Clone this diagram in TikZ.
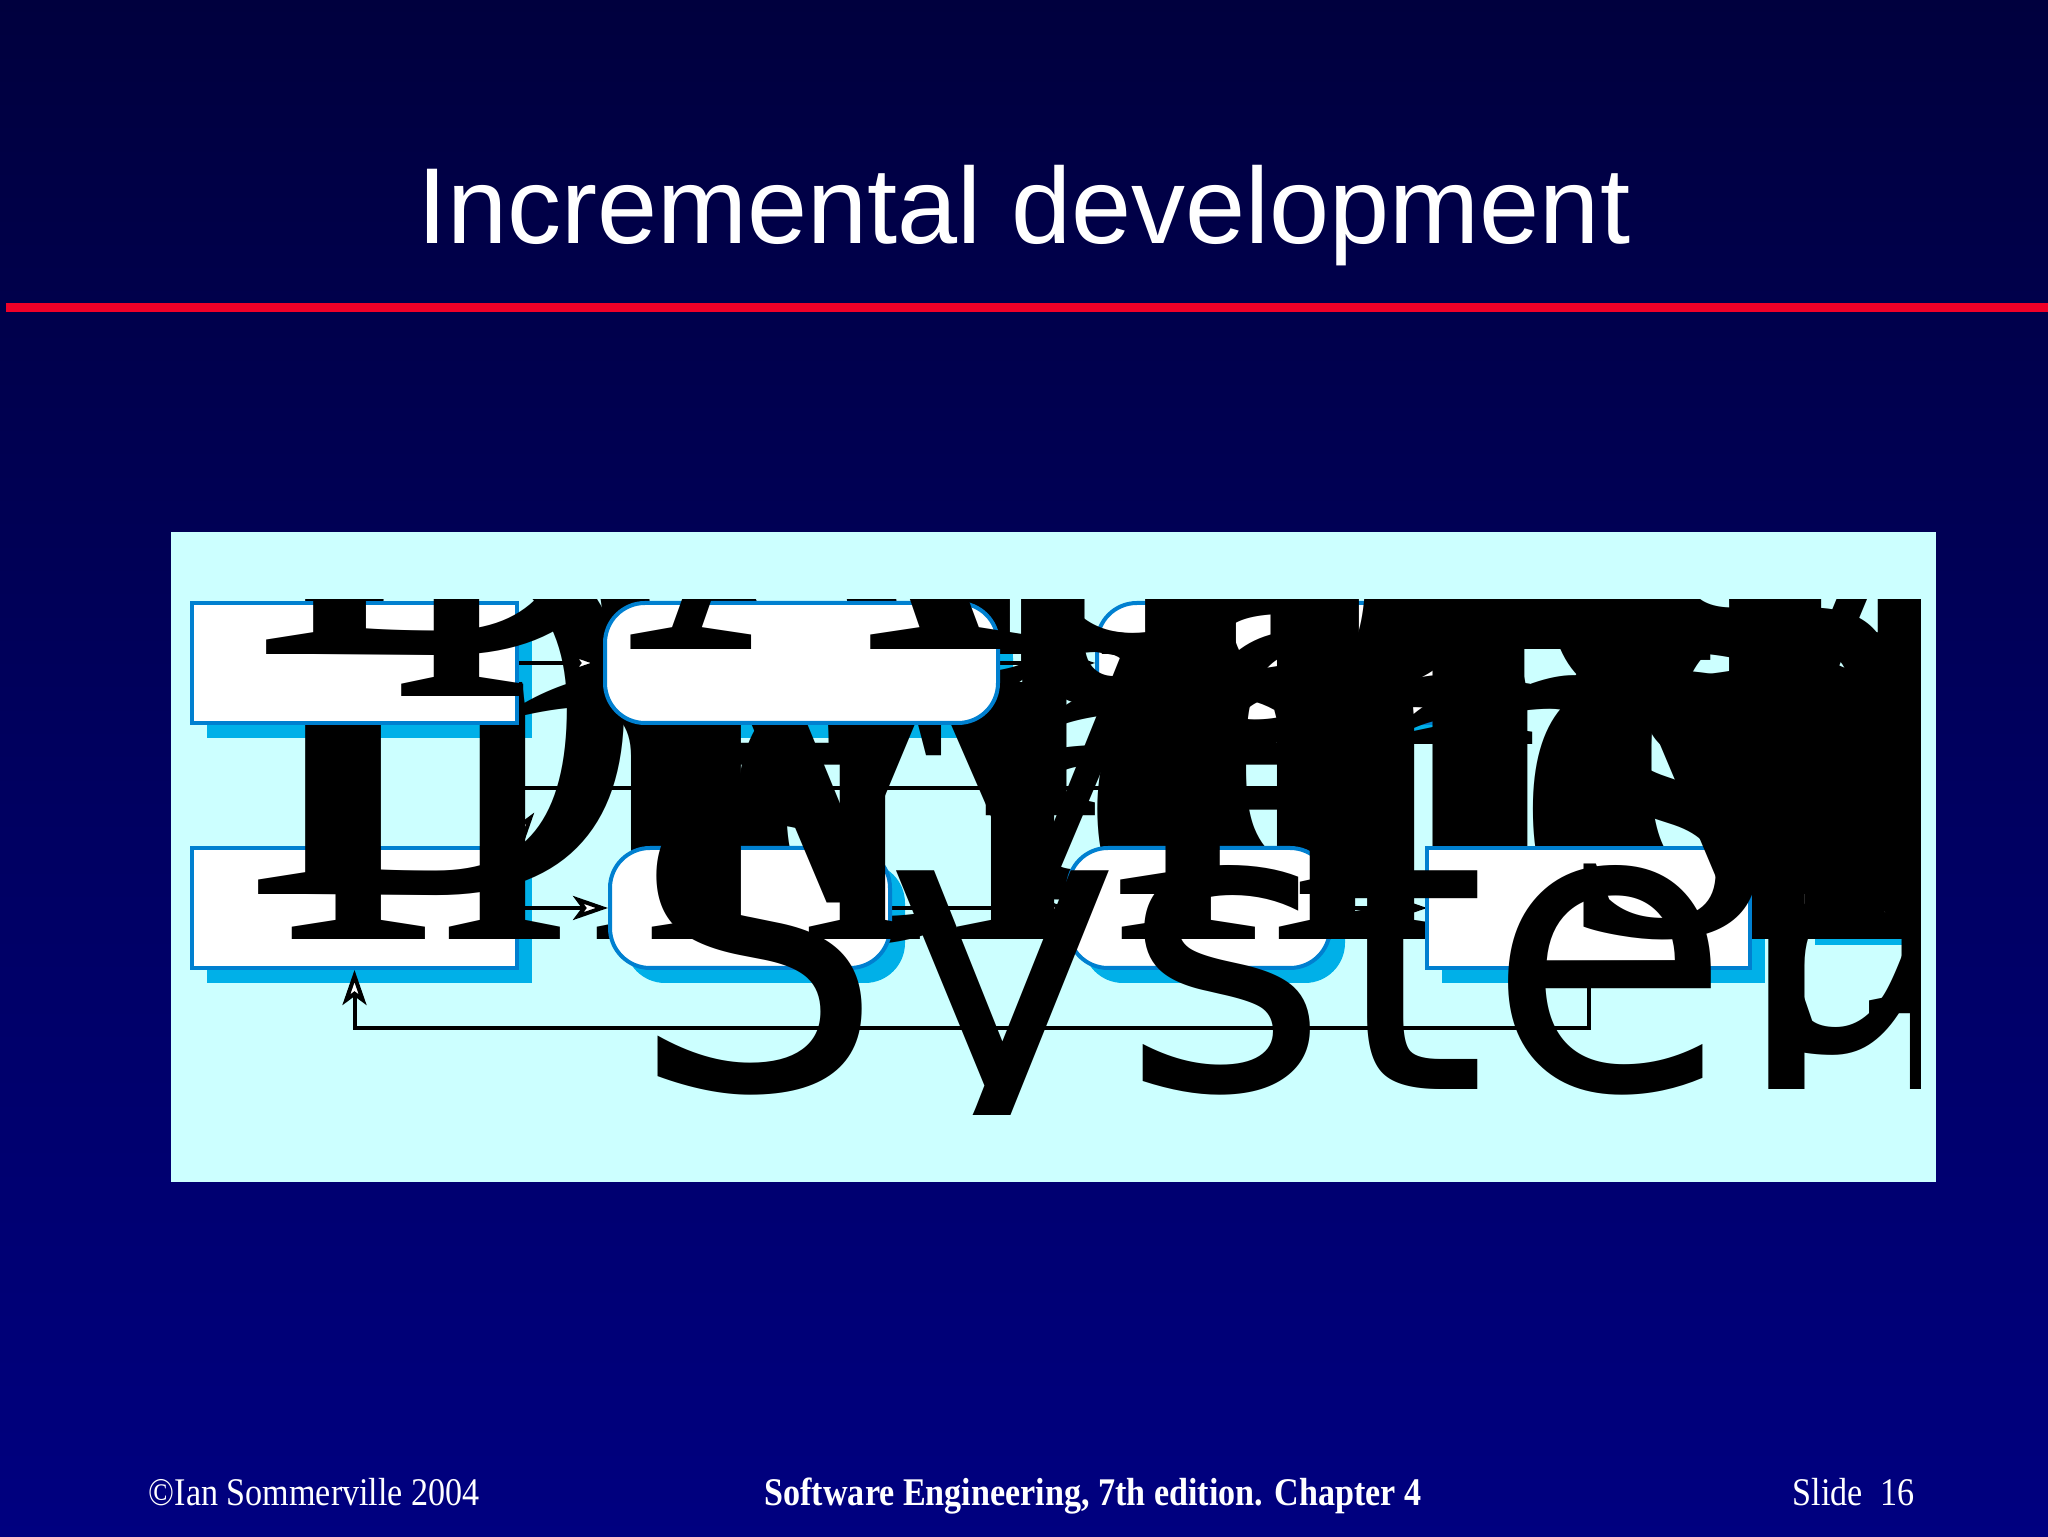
\documentclass[tikz,border=0pt]{standalone}
\usepackage{fontspec}
\setmainfont{Liberation Serif}
\setsansfont{Liberation Sans}
\newfontfamily\dejavu{DejaVu Sans}
\usetikzlibrary{arrows.meta}
\definecolor{bgtop}{RGB}{0,0,62}
\definecolor{bgbot}{RGB}{0,0,128}
\definecolor{redline}{RGB}{240,0,40}
\definecolor{panel}{RGB}{204,255,255}
\definecolor{boxedge}{RGB}{0,128,208}
\definecolor{shadowc}{RGB}{0,176,232}
\begin{document}
\begin{tikzpicture}[x=0.25pt,y=-0.25pt,
  procbox/.style={draw=boxedge, line width=1pt, fill=white, inner sep=0pt,
    minimum height=30pt},
  rbox/.style={procbox, rounded corners=10pt},
  shbox/.style={fill=shadowc, draw=none, inner sep=0pt, minimum height=30pt},
  rshbox/.style={shbox, rounded corners=10pt},
  conn/.style={draw=black, line width=1pt,
    -{Stealth[fill=white, length=8.75pt, width=6pt, inset=2.2pt]}},
  giant/.style={anchor=base west, inner sep=0pt, text=black,
    font=\fontsize{140}{140}\selectfont},
  giantsans/.style={anchor=base west, inner sep=0pt, text=black,
    font=\dejavu\fontsize{100}{100}\selectfont},
  foot/.style={text=white, inner sep=0pt, font=\fontsize{9.8}{12}\selectfont}
]
\useasboundingbox (0,0) rectangle (2048,1537);
\shade[top color=bgtop, bottom color=bgbot] (0,0) rectangle (2048,1537);
\fill[redline] (6,303) rectangle (2048,312);

\node[anchor=base, text=white, inner sep=0pt,
  font=\sffamily\fontsize{27}{30}\selectfont] (title) at (1024,244) {Incremental development};

\fill[panel] (171,532) rectangle (1936,1182);

% node positions
\coordinate (p1) at (354.5,663);
\coordinate (p2) at (801.5,663);
\coordinate (p3) at (1293.5,663);
\coordinate (p4) at (354.5,908);
\coordinate (p5) at (750,908);
\coordinate (p6) at (1199,908);
\coordinate (p7) at (1588.5,908);
\coordinate (p8) at (1852,890);
% box edge points used by the connectors drawn before the boxes
\coordinate (B2e) at (998,663);
\coordinate (B5e) at (890,908);
\coordinate (B6w) at (1068,908);
\coordinate (B6e) at (1330,908);
\coordinate (B7w) at (1427,908);
\coordinate (B7e) at (1750,908);
\coordinate (B8w) at (1799.5,908);
\coordinate (B4n) at (522,848);
\coordinate (bend) at (522,788);

\begin{scope}
\clip (183,600) rectangle (1920,1115);
% shadows
\node[shbox, minimum width=81.25pt] (sB1) at ([shift={(15,15)}]p1) {};
\node[rshbox, minimum width=98.25pt] (sB2) at ([shift={(15,15)}]p2) {};
\node[rshbox, minimum width=98.25pt] (sB3) at ([shift={(15,15)}]p3) {};
\node[shbox, minimum width=81.25pt] (sB4) at ([shift={(15,15)}]p4) {};
\node[rshbox, minimum width=70pt] (sB5) at ([shift={(15,15)}]p5) {};
\node[rshbox, minimum width=65.5pt] (sB6) at ([shift={(15,15)}]p6) {};
\node[shbox, minimum width=80.75pt] (sB7) at ([shift={(15,15)}]p7) {};
\node[shbox, minimum width=26.25pt, minimum height=20pt] (sB8) at ([shift={(15,15)}]p8) {};

% boxes drawn first in the printed order
\node[rbox, minimum width=98.25pt] (B3) at (p3) {};
\node[procbox, minimum width=26.25pt, minimum height=20pt] (B8) at (p8) {};

% connectors under the oversized labels
\draw[conn] (B2e) -- (B3.west);
\draw[conn] (B3.south) |- (bend) -- (B4n);
\draw[conn] (B5e) -- (B6w);
\draw[conn] (B6e) -- (B7w);
\draw[conn] (B7e) -- (B8w);

\node[giant] (t3a) at (1120,700) {Design system};
\node[giant] (t3b) at (1150,745) {architecture};
\node[giant] (t8a) at (1815,895) {Final};
\node[giant] (t8b) at (1815,935) {system};

% bottom row
\node[procbox, minimum width=81.25pt] (B4) at (p4) {};
\node[giant] (t4a) at (242,895) {Develop system};
\node[giant] (t4b) at (280,940) {increment};
\node[rbox, minimum width=70pt] (B5) at (p5) {};
\node[giant] (t5a) at (630,895) {Validate};
\node[giant] (t5b) at (640,940) {increment};
\node[rbox, minimum width=65.5pt] (B6) at (p6) {};
\node[giant] (t6a) at (1100,895) {Integrate};
\node[giant] (t6b) at (1110,940) {increment};
\node[procbox, minimum width=80.75pt] (B7) at (p7) {};
\node[giant] (t7a) at (1530,895) {Validate};
\node[giant] (t7b) at (1560,935) {system};

% top row, left part
\node[procbox, minimum width=81.25pt] (B1) at (p1) {};
\node[giant] (t1a) at (250,655) {Define outline};
\node[giant] (t1b) at (390,697) {requirements};
\node[rbox, minimum width=98.25pt] (B2) at (p2) {};
\node[giant] (t2a) at (625,650) {Assign requirements};
\node[giant] (t2b) at (1000,700) {to increments};

% feedback label
\node[giantsans] (tfb) at (630,1090) {System incomplete};

% visible connectors
\draw[conn] (B1.east) -- (B2.west);
\draw[conn] (B4.east) -- (B5.west);
\coordinate (loop) at (1588.5,1028);
\draw[conn] (B7.south) -- (loop) -| (B4.south);
\end{scope}

% footer
\node[foot, anchor=base west] (fl) at (148,1506) {\scalebox{0.87}[1]{\textcopyright Ian Sommerville 2004}};
\node[foot, anchor=base] (fm) at (1093,1506) {\scalebox{0.87}[1]{\textbf{Software Engineering, 7th edition. Chapter 4}}};
\node[foot, anchor=base east] (fr) at (1915,1506) {\scalebox{0.87}[1]{Slide\ \ 16}};
\end{tikzpicture}
\end{document}
